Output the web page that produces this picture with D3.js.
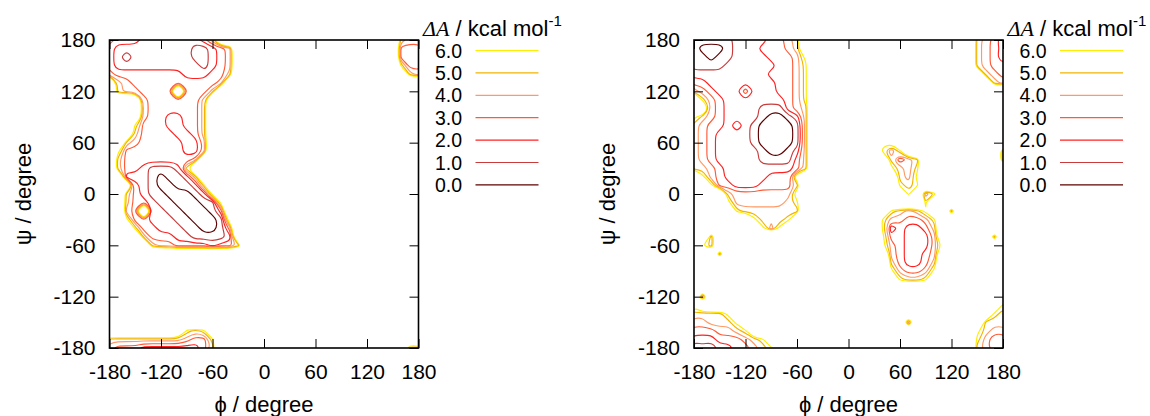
<!DOCTYPE html>
<html>
<head>
<meta charset="utf-8">
<script src="https://cdn.jsdelivr.net/npm/d3@7"></script>
<style>
  body { margin: 0; background: #fff; }
  svg { display: block; font-family: "Liberation Sans", Arial, sans-serif; }
</style>
</head>
<body>
<script>
// contour levels (kcal/mol) and their colours, as in the key
const levels = [6, 5, 4, 3, 2, 1, 0];
const levelLabels = ['6.0', '5.0', '4.0', '3.0', '2.0', '1.0', '0.0'];
const levelColors = ['#ffee00', '#f2b400', '#ff9a66', '#ff5a36', '#ff2222', '#c83c3c', '#5c0000'];
const tickValues = [-180, -120, -60, 0, 60, 120, 180];

// sample points of the free energy grid (degrees)
const gridPhi = d3.range(-180, 181, 10);
const gridPsi = d3.range(180, -181, -10);

// each character is the energy band of one grid point: digit n means n-1 < dA <= n,
// '.' means not sampled (high). Rows run from psi = 180 down to -180,
// columns from phi = -180 to 180, spaces only group the columns by ten.
const bandKey = '0123456789';
const emptyValue = 12;

const gridLeft = [
  '4333222222 235....... .......... ....544',
  '3222222222 11234..... .......... ....333',
  '3212222222 11234..... .......... ....333',
  '3222222222 21234..... .......... ....633',
  '4333333332 22335..... .......... .....54',
  '.543333333 3334...... .......... .......',
  '.5443333.3 335....... .......... .......',
  '....433333 35........ .......... .......',
  '....433333 35........ .......... .......',
  '....433223 35........ .......... .......',
  '...6333223 35........ .......... .......',
  '...5333322 35........ .......... .......',
  '..54333332 24........ .......... .......',
  '.733333332 24........ .......... .......',
  '.533333333 4......... .......... .......',
  '.533211126 .......... .......... .......',
  '..22210112 5......... .......... .......',
  '...3210011 26........ .......... .......',
  '..53211000 127....... .......... .......',
  '..53321100 0117...... .......... .......',
  '..43.22110 0013...... .......... .......',
  '..73322211 00018..... .......... .......',
  '...6332221 10014..... .......... .......',
  '....533322 11112..... .......... .......',
  '.....54433 332335.... .......... .......',
  '.......... .......... .......... .......',
  '.......... .......... .......... .......',
  '.......... .......... .......... .......',
  '.......... .......... .......... .......',
  '.......... .......... .......... .......',
  '.......... .......... .......... .......',
  '.......... .......... .......... .......',
  '.......... .......... .......... .......',
  '.......... .......... .......... .......',
  '.........6 56........ .......... .......',
  '5555555554 336....... .......... .......',
  '4333222222 235....... .......... .....55'
];

const gridRight = [
  '1111122223 345....... .......... ...5432',
  '1000122233 345....... .......... ...5432',
  '1101122223 3347...... .......... ...5432',
  '1111222222 3346...... .......... ...5433',
  '2222222223 3346...... .......... ....543',
  '3322222222 3346...... .......... .....54',
  '5432224222 3346...... .......... .......',
  '.643222222 2346...... .......... .......',
  '..43222211 1345...... .......... .......',
  '7543222210 0125...... .......... .......',
  '5433232100 0015...... .......... .......',
  '5432222100 0015...... .......... .......',
  '5432222100 0015...... ..77...... .......',
  '5432222210 0125...... ..646..... ......5',
  '5432222211 1135...... ...5345... ......5',
  '5543222222 2235...... ...7546... .......',
  '.743222223 338....... ....547... .......',
  '..73322233 335....... ....656... .......',
  '....544444 448....... .....6.46. .......',
  '....744444 456....... .......6.. .......',
  '.....65555 555....... ...65457.. 5......',
  '.......755 56........ ..6443346. .......',
  '........74 7......... ..6232235. .......',
  '..5....... .......... ..7332224. .....5.',
  '.75....... .......... ..74322247 .......',
  '...5...... .......... ...432234. .......',
  '.......... .......... ...532235. .......',
  '.......... .......... ...743347. .......',
  '.......... .......... ....6556.. .......',
  '.......... .......... .......... .......',
  '.4........ .......... .......... .......',
  '7......... .......... .......... ......6',
  '55557..... .......... .......... .....65',
  '445557.... .......... .....4.... ....555',
  '3334456... .......... .......... ...7544',
  '222333456. .......... .......... ...6433',
  '1112233456 .......... .......... ...5433'
];

const width = 1150;
const height = 416;
const plotTop = 40;
const plotBottom = 348;
const plotWidth = 309;
const panelLefts = [109.5, 694];

const svg = d3.select('body').append('svg')
  .attr('width', width)
  .attr('height', height);

svg.append('rect').attr('width', width).attr('height', height).attr('fill', '#fff');

function decode(grid) {
  if (grid.length !== gridPsi.length) { throw new Error('grid has ' + grid.length + ' rows'); }
  const values = [];
  grid.forEach((line, r) => {
    const row = line.replace(/ /g, '');
    if (row.length !== gridPhi.length) { throw new Error('row ' + r + ' has ' + row.length + ' columns'); }
    for (const ch of row) {
      // contours enclose values >= threshold, so energies are negated
      values.push(ch === '.' ? -emptyValue : -(bandKey.indexOf(ch) - 0.5));
    }
  });
  return values;
}

function drawPanel(grid, left, idx) {
  const right = left + plotWidth;
  const x = d3.scaleLinear().domain([-180, 180]).range([left, right]);
  const y = d3.scaleLinear().domain([-180, 180]).range([plotBottom, plotTop]);
  const n = gridPhi.length;
  // grid point i sits at contour coordinate i + 0.5
  const colPhi = d3.scaleLinear().domain([0.5, n - 0.5]).range([gridPhi[0], gridPhi[n - 1]]);
  const rowPsi = d3.scaleLinear().domain([0.5, n - 0.5]).range([gridPsi[0], gridPsi[n - 1]]);

  const g = svg.append('g');

  g.append('clipPath').attr('id', 'clip' + idx)
    .append('rect')
      .attr('x', left).attr('y', plotTop)
      .attr('width', plotWidth).attr('height', plotBottom - plotTop);

  const contours = d3.contours()
    .size([n, n])
    .thresholds(levels.map(l => -l))(decode(grid));

  const smoothLine = d3.line()
    .x(p => x(colPhi(p[0])))
    .y(p => y(rowPsi(p[1])))
    .curve(d3.curveBasisClosed);
  const tightLine = d3.line()
    .x(p => x(colPhi(p[0])))
    .y(p => y(rowPsi(p[1])))
    .curve(d3.curveCatmullRomClosed.alpha(0.5));

  g.append('g')
      .attr('clip-path', `url(#clip${idx})`)
      .attr('fill', 'none')
    .selectAll('g')
    .data(contours)
    .join('g')
      .attr('stroke', (d, i) => levelColors[i])
      .attr('stroke-width', 1.15)
    .selectAll('path')
    .data(d => d.coordinates.flat())
    .join('path')
      .attr('d', ring => {
        const pts = ring.slice(0, -1);
        // small loops keep their size, longer lines get rounded corners
        return pts.length < 10 ? tightLine(pts) : smoothLine(pts);
      });

  // axes: inward ticks on all four sides, labels left and bottom
  const styleAxis = sel => {
    sel.select('.domain').remove();
    sel.attr('font-size', 21).attr('font-family', null);
    sel.selectAll('text').attr('fill', '#000');
    sel.selectAll('line').attr('stroke', '#000');
  };
  g.append('g').attr('transform', `translate(0,${plotBottom})`)
    .call(d3.axisBottom(x).tickValues(tickValues).tickSize(-9).tickPadding(16).tickFormat(d => String(d)))
    .call(styleAxis);
  g.append('g').attr('transform', `translate(0,${plotTop})`)
    .call(d3.axisTop(x).tickValues(tickValues).tickSize(-9).tickFormat(''))
    .call(styleAxis);
  g.append('g').attr('transform', `translate(${left},0)`)
    .call(d3.axisLeft(y).tickValues(tickValues).tickSize(-9).tickPadding(14).tickFormat(d => String(d)))
    .call(styleAxis);
  g.append('g').attr('transform', `translate(${right},0)`)
    .call(d3.axisRight(y).tickValues(tickValues).tickSize(-9).tickFormat(''))
    .call(styleAxis);

  g.append('rect')
    .attr('x', left).attr('y', plotTop)
    .attr('width', plotWidth).attr('height', plotBottom - plotTop)
    .attr('fill', 'none').attr('stroke', '#000').attr('stroke-width', 1.6);

  // axis titles
  g.append('text')
    .attr('x', left + plotWidth / 2).attr('y', 411.5)
    .attr('text-anchor', 'middle').attr('font-size', 22)
    .text('\u03d5 / degree');
  g.append('text')
    .attr('transform', `translate(${left - 79},${(plotTop + plotBottom) / 2}) rotate(-90)`)
    .attr('text-anchor', 'middle').attr('font-size', 22)
    .text('\u03c8 / degree');

  // key
  const title = g.append('text')
    .attr('x', right + 4.5).attr('y', 36).attr('font-size', 22);
  title.append('tspan')
    .attr('font-family', '"Liberation Serif", serif').attr('font-style', 'italic')
    .text('\u0394A');
  title.append('tspan').text(' / kcal mol');
  title.append('tspan').attr('font-size', 15).attr('dy', -10).text('-1');

  const key = g.append('g').selectAll('g')
    .data(levels)
    .join('g')
      .attr('transform', (d, i) => `translate(0,${50.5 + i * 22.4})`);
  key.append('text')
    .attr('x', right + 43.5).attr('y', 7)
    .attr('text-anchor', 'end').attr('font-size', 19.5)
    .text((d, i) => levelLabels[i]);
  key.append('line')
    .attr('x1', right + 57).attr('x2', right + 120)
    .attr('stroke', (d, i) => levelColors[i])
    .attr('stroke-width', 1.2);
}

drawPanel(gridLeft, panelLefts[0], 0);
drawPanel(gridRight, panelLefts[1], 1);
</script>
</body>
</html>
